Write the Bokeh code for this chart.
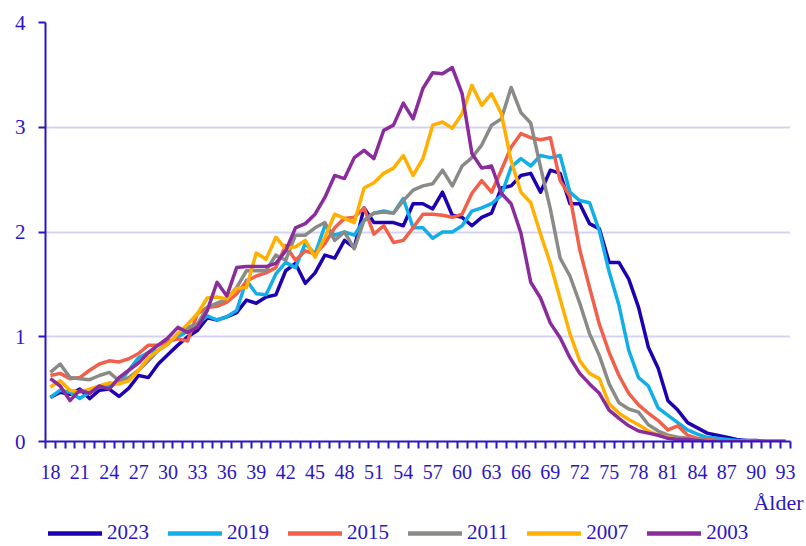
from bokeh.plotting import figure
from bokeh.models import Range1d, FixedTicker, Legend, LegendItem, Title
from bokeh.layouts import column
from bokeh.embed import file_html
from bokeh.resources import INLINE

ages = list(range(18, 94))

y2023 = [0.42, 0.47, 0.45, 0.50, 0.41, 0.49, 0.50, 0.43, 0.51, 0.63, 0.61, 0.74, 0.83, 0.92, 1.00, 1.06,
         1.18, 1.16, 1.19, 1.23, 1.35, 1.32, 1.38, 1.40, 1.63, 1.70, 1.51, 1.61, 1.78, 1.75, 1.92, 1.85,
         2.23, 2.09, 2.09, 2.09, 2.06, 2.27, 2.27, 2.22, 2.38, 2.16, 2.14, 2.06, 2.14, 2.18, 2.42, 2.44,
         2.54, 2.56, 2.38, 2.59, 2.56, 2.27, 2.27, 2.08, 2.03, 1.71, 1.71, 1.55, 1.28, 0.90, 0.70, 0.39,
         0.30, 0.18, 0.13, 0.08, 0.06, 0.04, 0.02, 0.01, 0.01, 0.0, 0.0, 0.0]
y2019 = [0.42, 0.49, 0.47, 0.41, 0.47, 0.52, 0.54, 0.56, 0.68, 0.80, 0.85, 0.87, 0.94, 1.00, 1.05, 1.12,
         1.20, 1.16, 1.19, 1.25, 1.54, 1.41, 1.40, 1.60, 1.71, 1.66, 1.89, 1.79, 2.06, 1.97, 2.00, 1.97,
         2.11, 2.18, 2.20, 2.18, 2.32, 2.04, 2.04, 1.94, 2.00, 2.00, 2.06, 2.20, 2.23, 2.27, 2.35, 2.62,
         2.70, 2.63, 2.73, 2.71, 2.73, 2.38, 2.30, 2.28, 2.01, 1.62, 1.30, 0.87, 0.61, 0.53, 0.32, 0.25,
         0.18, 0.11, 0.07, 0.04, 0.03, 0.02, 0.01, 0.01, 0.0, 0.0, 0.0, 0.0]
y2015 = [0.63, 0.65, 0.60, 0.61, 0.68, 0.74, 0.77, 0.76, 0.79, 0.84, 0.92, 0.92, 0.96, 0.98, 0.96, 1.22,
         1.28, 1.29, 1.33, 1.41, 1.53, 1.58, 1.61, 1.66, 1.87, 1.73, 1.82, 1.79, 1.89, 2.04, 2.13, 2.14,
         2.23, 1.98, 2.06, 1.90, 1.92, 2.04, 2.17, 2.17, 2.16, 2.14, 2.17, 2.37, 2.49, 2.38, 2.59, 2.81,
         2.94, 2.90, 2.88, 2.90, 2.49, 2.34, 1.83, 1.47, 1.12, 0.85, 0.63, 0.46, 0.35, 0.27, 0.20, 0.11,
         0.15, 0.06, 0.03, 0.02, 0.01, 0.0, 0.0, 0.0, 0.0, 0.0, 0.0, 0.0]
y2011 = [0.66, 0.74, 0.61, 0.60, 0.59, 0.63, 0.66, 0.58, 0.61, 0.68, 0.77, 0.87, 0.93, 1.03, 1.09, 1.12,
         1.28, 1.32, 1.36, 1.47, 1.63, 1.63, 1.63, 1.78, 1.73, 1.97, 1.97, 2.04, 2.09, 1.92, 2.00, 1.84,
         2.11, 2.18, 2.19, 2.18, 2.30, 2.40, 2.44, 2.46, 2.59, 2.44, 2.63, 2.71, 2.83, 3.02, 3.08, 3.38,
         3.14, 3.04, 2.62, 2.22, 1.75, 1.58, 1.32, 1.03, 0.82, 0.55, 0.37, 0.31, 0.28, 0.16, 0.10, 0.06,
         0.04, 0.03, 0.02, 0.01, 0.0, 0.0, 0.0, 0.0, 0.0, 0.0, 0.0, 0.0]
y2007 = [0.52, 0.58, 0.49, 0.47, 0.50, 0.53, 0.56, 0.55, 0.58, 0.68, 0.80, 0.87, 0.93, 1.03, 1.12, 1.22,
         1.37, 1.38, 1.36, 1.46, 1.47, 1.80, 1.74, 1.95, 1.84, 1.86, 1.92, 1.76, 1.95, 2.17, 2.13, 2.09,
         2.42, 2.47, 2.56, 2.61, 2.73, 2.54, 2.70, 3.02, 3.05, 2.99, 3.13, 3.40, 3.21, 3.32, 3.13, 2.68,
         2.38, 2.28, 1.98, 1.70, 1.36, 1.03, 0.77, 0.65, 0.60, 0.36, 0.27, 0.21, 0.16, 0.10, 0.06, 0.04,
         0.02, 0.01, 0.0, 0.0, 0.0, 0.0, 0.0, 0.0, 0.0, 0.0, 0.0, 0.0]
y2003 = [0.60, 0.53, 0.39, 0.49, 0.46, 0.53, 0.50, 0.61, 0.68, 0.75, 0.85, 0.92, 0.99, 1.09, 1.04, 1.09,
         1.25, 1.52, 1.39, 1.66, 1.67, 1.67, 1.67, 1.70, 1.82, 2.04, 2.08, 2.17, 2.33, 2.54, 2.51, 2.71,
         2.78, 2.70, 2.97, 3.02, 3.23, 3.08, 3.37, 3.52, 3.51, 3.57, 3.32, 2.75, 2.61, 2.63, 2.37, 2.27,
         1.99, 1.52, 1.37, 1.13, 0.99, 0.80, 0.65, 0.55, 0.46, 0.30, 0.22, 0.15, 0.10, 0.08, 0.06, 0.03,
         0.02, 0.02, 0.01, 0.0, 0.0, 0.0, 0.0, 0.0, 0.0, 0.0, 0.0, 0.0]

series_labels = ["2023", "2019", "2015", "2011", "2007", "2003"]
series_values = [y2023, y2019, y2015, y2011, y2007, y2003]
series_colors = ["#1f00b0", "#12aee8", "#f0604a", "#8a8a86", "#ffb000", "#8a2c9c"]

x_tick_labels = list(range(18, 94, 3))
y_ticks = [0, 1, 2, 3, 4]

INK = "#2c16c4"
FONT = "Liberation Serif"

p = figure(width=804, height=521, output_backend="svg", toolbar_location=None,
           x_range=Range1d(17.5, 93.5), y_range=Range1d(0, 4),
           min_border_left=45, min_border_top=22, min_border_right=14, min_border_bottom=80)
p.outline_line_color = None
p.background_fill_color = "white"
p.border_fill_color = "white"

p.xgrid.visible = False
p.ygrid.grid_line_color = "#d4d4f2"
p.ygrid.grid_line_width = 2

xa = p.xaxis[0]
xa.ticker = FixedTicker(ticks=x_tick_labels, minor_ticks=[a - 0.5 for a in range(18, 95)])
xa.major_tick_line_color = None
xa.major_tick_out = 0
xa.major_tick_in = 0
xa.minor_tick_out = 7
xa.minor_tick_in = 0
xa.minor_tick_line_color = INK
xa.minor_tick_line_width = 2
xa.axis_line_color = INK
xa.axis_line_width = 2
xa.major_label_standoff = 16
xa.major_label_text_font = FONT
xa.major_label_text_font_size = "20px"
xa.major_label_text_color = INK

ya = p.yaxis[0]
ya.ticker = FixedTicker(ticks=y_ticks, minor_ticks=[])
ya.major_tick_out = 7
ya.major_tick_in = 0
ya.major_tick_line_color = INK
ya.major_tick_line_width = 2
ya.minor_tick_line_color = None
ya.axis_line_color = INK
ya.axis_line_width = 2
ya.major_label_standoff = 13
ya.major_label_text_font = FONT
ya.major_label_text_font_size = "21px"
ya.major_label_text_color = INK

for vals, col in zip(series_values, series_colors):
    p.line(ages, vals, line_color=col, line_width=3.5, line_join="round")

p.add_layout(Title(text="Ålder", align="right", text_font=FONT, text_font_size="22px",
                   text_color=INK, text_font_style="normal", standoff=12, offset=-13), "below")

# legend strip (its own small plot, so the legend is not clipped by the chart frame)
p2 = figure(width=804, height=24, output_backend="svg", toolbar_location=None,
            x_range=Range1d(0, 1), y_range=Range1d(0, 1), x_axis_type=None, y_axis_type=None,
            min_border=0)
p2.outline_line_color = None
p2.grid.visible = False
items = []
for lab, vals, col in zip(series_labels, series_values, series_colors):
    # single-point, off-range line: only its legend swatch is visible
    r = p2.line(ages[:1], vals[:1], line_color=col, line_width=4.5, line_cap="round")
    items.append(LegendItem(label=lab, renderers=[r]))
legend = Legend(items=items, orientation="horizontal", location=(3, 0),
                glyph_width=54, glyph_height=20, label_standoff=5, spacing=19,
                padding=0, margin=0, border_line_color=None, background_fill_alpha=0,
                label_text_font=FONT, label_text_font_size="21px", label_text_color=INK,
                label_height=20)
p2.add_layout(legend)

open("out.html", "w").write(file_html(column(p, p2, spacing=0), INLINE))
